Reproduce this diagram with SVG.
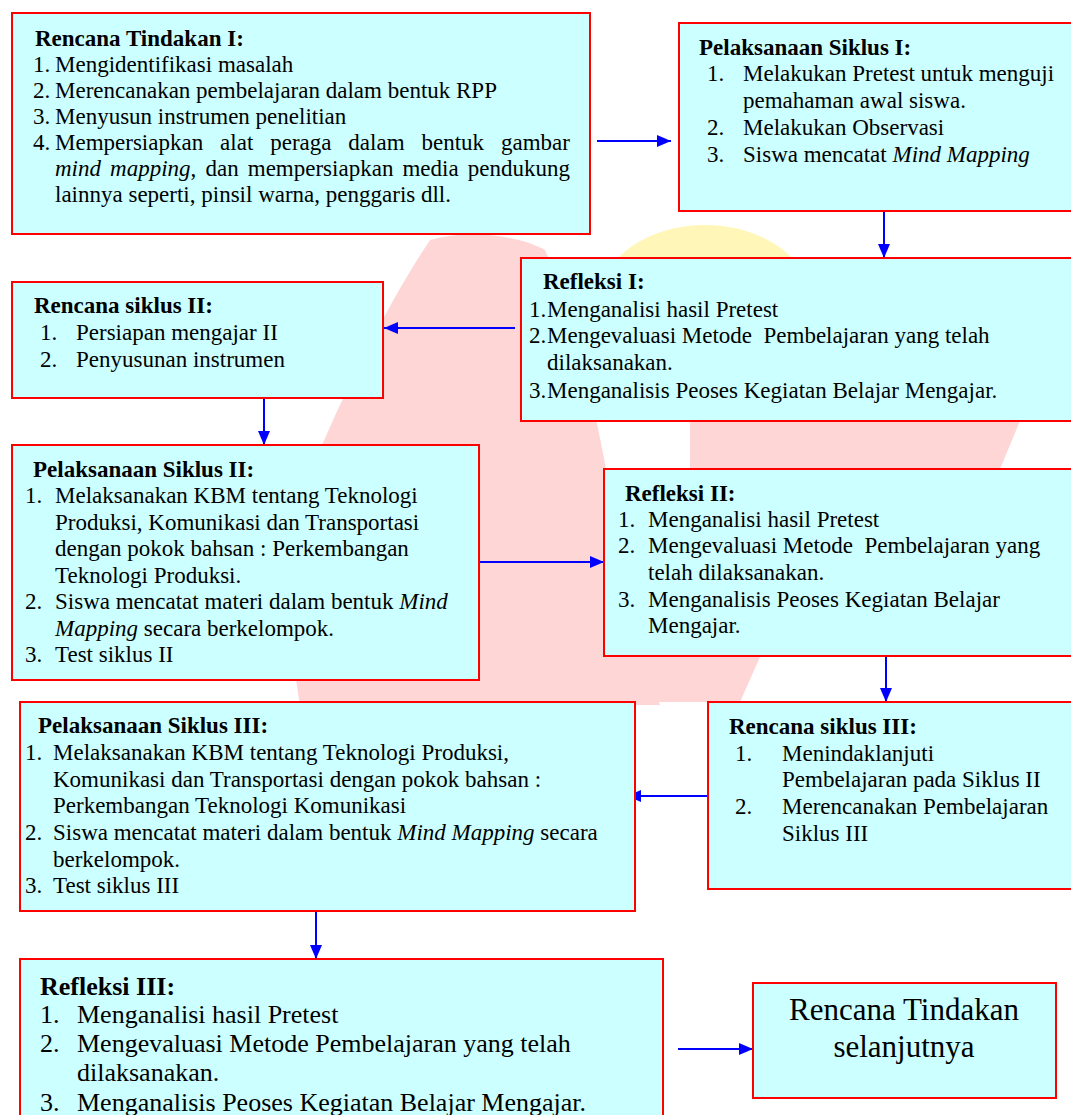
<svg xmlns="http://www.w3.org/2000/svg" width="1071" height="1115" viewBox="0 0 1071 1115">
<style>
.box{fill:#CCFFFF;stroke:#FF0000;stroke-width:2}
text{font-family:"Liberation Serif","Times New Roman",serif;fill:#000;font-size:23px}
.t{font-weight:bold}
.i{font-style:italic}
.big{font-size:26px}
.cn{font-size:31px;text-anchor:middle}
.c{stroke:#0000FF;stroke-width:2;fill:none;marker-end:url(#ah)}
.wp{fill:#FFD6D6}
.wy{fill:#FFF6B8}
</style>
<defs>
<marker id="ah" markerUnits="userSpaceOnUse" markerWidth="14" markerHeight="12" refX="14" refY="6" orient="auto">
<path d="M0,0 L14,6 L0,12 z" fill="#0000FF"/>
</marker>
</defs>
<rect width="1071" height="1115" fill="#FFFFFF"/>

<g id="watermark">
<ellipse class="wy" cx="705" cy="300" rx="105" ry="75"/>
<path class="wp" d="M430,240 C470,228 520,236 545,250 C580,330 600,430 615,520 C625,600 640,660 660,705 L300,705 C285,620 290,520 320,450 C350,380 390,300 430,240 Z"/>
<path class="wp" d="M690,421 L1020,421 L1000,469 L690,469 Z"/>
<path class="wp" d="M600,657 L760,657 L740,702 L620,702 Z"/>
</g>

<g id="connectors">
<line class="c" x1="597" y1="141" x2="671" y2="141"/>
<line class="c" x1="884" y1="211" x2="884" y2="258"/>
<line class="c" x1="515" y1="328" x2="384" y2="328"/>
<line class="c" x1="264" y1="398" x2="264" y2="445"/>
<line class="c" x1="479" y1="562" x2="604" y2="562"/>
<line class="c" x1="886" y1="657" x2="886" y2="702"/>
<line class="c" x1="708" y1="796" x2="627" y2="796"/>
<line class="c" x1="316" y1="912" x2="316" y2="959"/>
<line class="c" x1="678" y1="1049" x2="753" y2="1049"/>
</g>

<g id="rencana-tindakan-1">
<rect class="box" x="12" y="13" width="578" height="221"/>
<text class="t" x="35" y="46">Rencana Tindakan I:</text>
<text x="33" y="72">1.</text><text x="55" y="72">Mengidentifikasi masalah</text>
<text x="33" y="98">2.</text><text x="55" y="98">Merencanakan pembelajaran dalam bentuk RPP</text>
<text x="33" y="124">3.</text><text x="55" y="124">Menyusun instrumen penelitian</text>
<text x="33" y="150">4.</text><text x="55" y="150" word-spacing="11.15">Mempersiapkan alat peraga dalam bentuk gambar</text>
<text x="55" y="176" word-spacing="3.35"><tspan class="i">mind mapping</tspan>, dan mempersiapkan media pendukung</text>
<text x="55" y="202">lainnya seperti, pinsil warna, penggaris dll.</text>
</g>

<g id="pelaksanaan-siklus-1">
<rect class="box" x="679" y="23" width="400" height="188"/>
<text class="t" x="699" y="55">Pelaksanaan Siklus I:</text>
<text x="707" y="81">1.</text><text x="743" y="81">Melakukan Pretest untuk menguji</text>
<text x="743" y="108">pemahaman awal siswa.</text>
<text x="707" y="135">2.</text><text x="743" y="135">Melakukan Observasi</text>
<text x="707" y="162">3.</text><text x="743" y="162">Siswa mencatat <tspan class="i">Mind Mapping</tspan></text>
</g>

<g id="refleksi-1">
<rect class="box" x="521" y="258" width="558" height="163"/>
<text class="t" x="543" y="289">Refleksi I:</text>
<text x="529" y="317">1.</text><text x="547" y="317">Menganalisi hasil Pretest</text>
<text x="529" y="343">2.</text><text x="547" y="343" xml:space="preserve">Mengevaluasi Metode  Pembelajaran yang telah</text>
<text x="547" y="370">dilaksanakan.</text>
<text x="529" y="398">3.</text><text x="547" y="398">Menganalisis Peoses Kegiatan Belajar Mengajar.</text>
</g>

<g id="rencana-siklus-2">
<rect class="box" x="12" y="282" width="371" height="116"/>
<text class="t" x="34" y="313">Rencana siklus II:</text>
<text x="40" y="340">1.</text><text x="76" y="340">Persiapan mengajar II</text>
<text x="40" y="367">2.</text><text x="76" y="367">Penyusunan instrumen</text>
</g>

<g id="pelaksanaan-siklus-2">
<rect class="box" x="12" y="445" width="467" height="235"/>
<text class="t" x="33" y="477">Pelaksanaan Siklus II:</text>
<text x="25" y="503">1.</text><text x="55" y="503">Melaksanakan KBM tentang Teknologi</text>
<text x="55" y="529.5">Produksi, Komunikasi dan Transportasi</text>
<text x="55" y="556">dengan pokok bahsan : Perkembangan</text>
<text x="55" y="582.5">Teknologi Produksi.</text>
<text x="25" y="609">2.</text><text x="55" y="609">Siswa mencatat materi dalam bentuk <tspan class="i">Mind</tspan></text>
<text x="55" y="635.5"><tspan class="i">Mapping</tspan> secara berkelompok.</text>
<text x="25" y="662">3.</text><text x="55" y="662">Test siklus II</text>
</g>

<g id="refleksi-2">
<rect class="box" x="604" y="469" width="475" height="187"/>
<text class="t" x="625" y="501">Refleksi II:</text>
<text x="618" y="527">1.</text><text x="648" y="527">Menganalisi hasil Pretest</text>
<text x="618" y="553">2.</text><text x="648" y="553" xml:space="preserve">Mengevaluasi Metode  Pembelajaran yang</text>
<text x="648" y="580">telah dilaksanakan.</text>
<text x="618" y="607">3.</text><text x="648" y="607">Menganalisis Peoses Kegiatan Belajar</text>
<text x="648" y="633">Mengajar.</text>
</g>

<g id="pelaksanaan-siklus-3">
<rect class="box" x="20" y="702" width="615" height="209"/>
<text class="t" x="38" y="733">Pelaksanaan Siklus III:</text>
<text x="25" y="760">1.</text><text x="53" y="760">Melaksanakan KBM tentang Teknologi Produksi,</text>
<text x="53" y="786.5">Komunikasi dan Transportasi dengan pokok bahsan :</text>
<text x="53" y="813">Perkembangan Teknologi Komunikasi</text>
<text x="25" y="840">2.</text><text x="53" y="840">Siswa mencatat materi dalam bentuk <tspan class="i">Mind Mapping</tspan> secara</text>
<text x="53" y="866.5">berkelompok.</text>
<text x="25" y="893">3.</text><text x="53" y="893">Test siklus III</text>
</g>

<g id="rencana-siklus-3">
<rect class="box" x="708" y="702" width="371" height="187"/>
<text class="t" x="729" y="734">Rencana siklus III:</text>
<text x="735" y="761">1.</text><text x="782" y="761">Menindaklanjuti</text>
<text x="782" y="787">Pembelajaran pada Siklus II</text>
<text x="735" y="814">2.</text><text x="782" y="814">Merencanakan Pembelajaran</text>
<text x="782" y="841">Siklus III</text>
</g>

<g id="refleksi-3">
<rect class="box" x="20" y="959" width="643" height="170"/>
<text class="t big" x="40" y="995">Refleksi III:</text>
<text class="big" x="40" y="1023">1.</text><text class="big" x="77" y="1023">Menganalisi hasil Pretest</text>
<text class="big" x="40" y="1052">2.</text><text class="big" x="77" y="1052">Mengevaluasi Metode Pembelajaran yang telah</text>
<text class="big" x="77" y="1081">dilaksanakan.</text>
<text class="big" x="40" y="1111">3.</text><text class="big" x="77" y="1111">Menganalisis Peoses Kegiatan Belajar Mengajar.</text>
</g>

<g id="rencana-tindakan-selanjutnya">
<rect class="box" x="753" y="983" width="303" height="115"/>
<text class="cn" x="904" y="1020">Rencana Tindakan</text>
<text class="cn" x="904" y="1057">selanjutnya</text>
</g>
</svg>
